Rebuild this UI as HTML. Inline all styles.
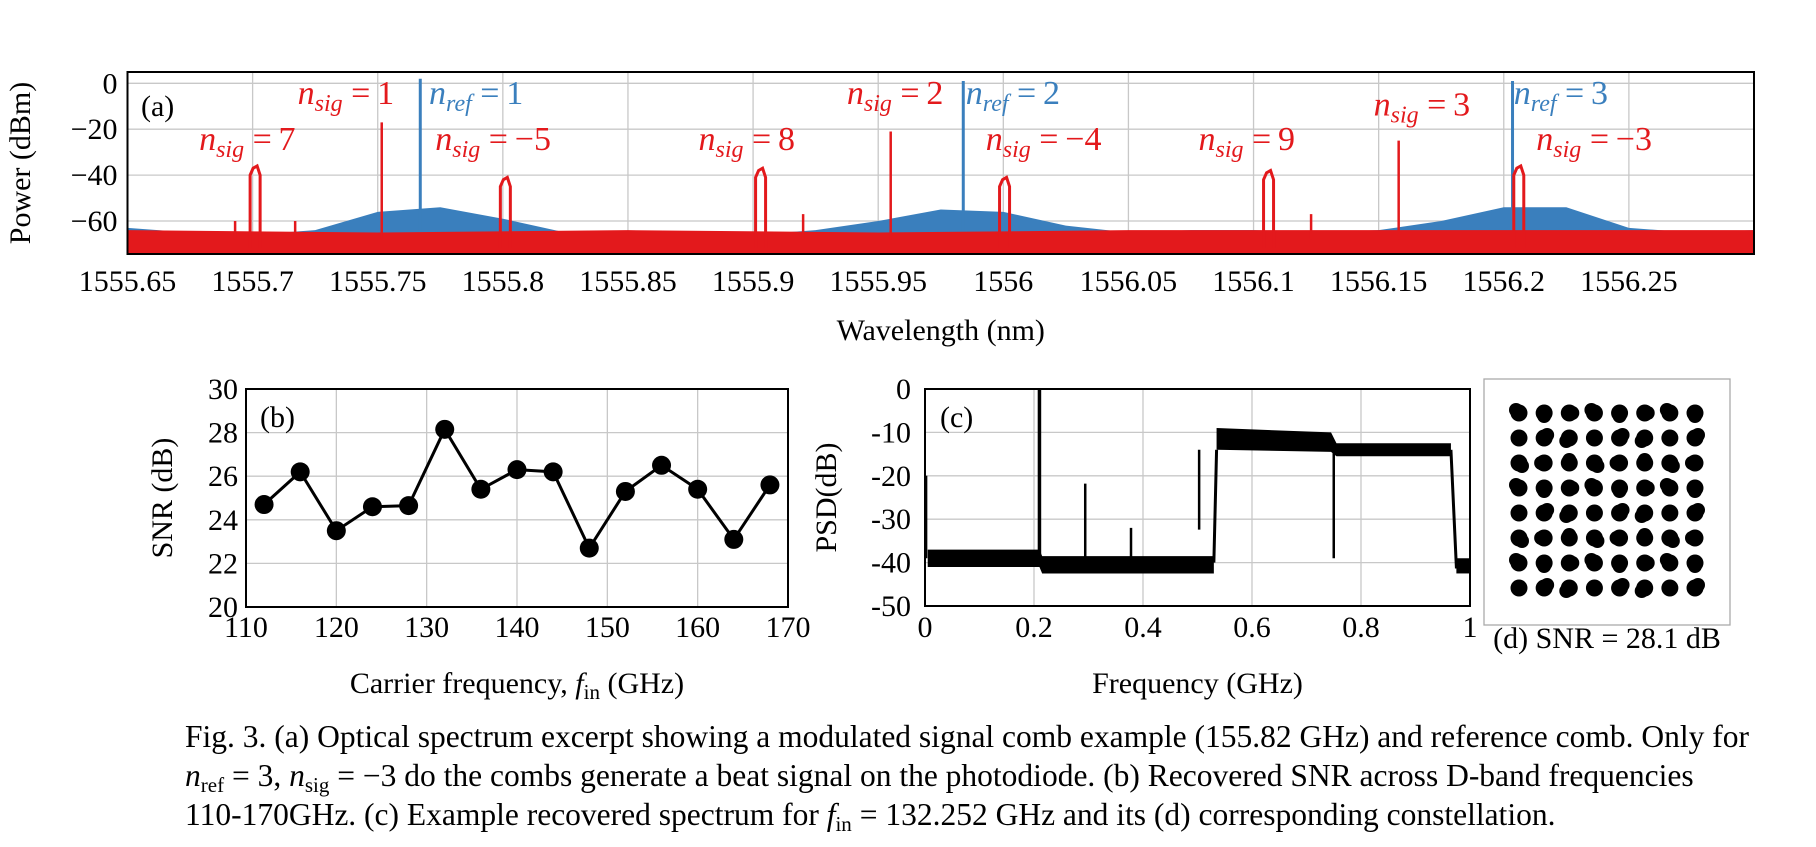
<!DOCTYPE html>
<html><head><meta charset="utf-8"><style>
html,body{margin:0;padding:0;background:#fff;}
svg{display:block;font-family:"Liberation Serif",serif;}
.t{font-size:30px;fill:#000;}
.an{font-size:34px;font-style:italic;}
.cap{font-size:31.5px;fill:#000;}
</style></head><body>
<svg id="fig" width="1816" height="847" viewBox="0 0 1816 847">
<g id="pa"></g>
<g id="pb"></g>
<g id="pc"></g>
<g id="pd"></g>
<g>
<text class="cap" x="185" y="747">Fig. 3. (a) Optical spectrum excerpt showing a modulated signal comb example (155.82 GHz) and reference comb. Only for</text>
<text class="cap" x="185" y="786"><tspan font-style="italic">n</tspan><tspan font-size="21" dy="6">ref</tspan><tspan dy="-6"> = 3, </tspan><tspan font-style="italic">n</tspan><tspan font-size="21" dy="6">sig</tspan><tspan dy="-6"> = −3 do the combs generate a beat signal on the photodiode. (b) Recovered SNR across D-band frequencies</tspan></text>
<text class="cap" x="185" y="825">110-170GHz. (c) Example recovered spectrum for <tspan font-style="italic">f</tspan><tspan font-size="21" dy="6">in</tspan><tspan dy="-6"> = 132.252 GHz and its (d) corresponding constellation.</tspan></text>
</g>
</svg>
<script>
// ---------- Panel (a) data ----------
const aXTicks=[1555.65,1555.7,1555.75,1555.8,1555.85,1555.9,1555.95,1556,1556.05,1556.1,1556.15,1556.2,1556.25];
const aXTickLabels=["1555.65","1555.7","1555.75","1555.8","1555.85","1555.9","1555.95","1556","1556.05","1556.1","1556.15","1556.2","1556.25"];
const aYTicks=[0,-20,-40,-60];
const aYTickLabels=["0","−20","−40","−60"];
const blueEnvX=[1555.65,1555.675,1555.7,1555.725,1555.75,1555.775,1555.8,1555.825,1555.85,1555.875,1555.9,1555.925,1555.95,1555.975,1556.0,1556.025,1556.05,1556.075,1556.1,1556.125,1556.15,1556.175,1556.2,1556.225,1556.25,1556.275,1556.3];
const blueEnvTop=[-63,-65,-66,-64,-56,-54,-59,-65,-65,-65,-66,-64,-60,-55,-56,-62,-65,-64,-64,-65,-64,-60,-54,-54,-63,-65,-64];
const blueEnvBot=[-74,-74,-74,-74,-67,-66,-68,-74,-74,-74,-74,-74,-70,-66,-67,-73,-74,-74,-74,-74,-74,-70,-66,-66,-73,-74,-74];
const redEnvX=[1555.65,1555.75,1555.85,1555.95,1556.05,1556.15,1556.25,1556.3];
const redEnvTop=[-64,-65,-64,-65,-64,-64,-64,-64];
const redEnvBot=[-74,-74,-74,-74,-74,-74,-74,-74];
const blueRefPos=[1555.767,1555.984,1556.2035];
const blueRefPeak=[2,1,1];
const redCombPos=[1555.701,1555.801,1555.903,1556.0005,1556.106,1556.206];
const redCombPeak=[-37,-42,-38,-42,-39,-37];
const redSpikePos=[1555.693,1555.717,1555.7516,1555.92,1555.955,1556.123,1556.158];
const redSpikePeak=[-60,-60,-17,-57,-21,-57,-25];
const annText=[["n","sig","= 7"],["n","sig","= 1"],["n","ref","= 1"],["n","sig","= −5"],["n","sig","= 8"],["n","sig","= 2"],["n","ref","= 2"],["n","sig","= −4"],["n","sig","= 9"],["n","sig","= 3"],["n","ref","= 3"],["n","sig","= −3"]];
const annX=[1555.6786,1555.7180,1555.7705,1555.7730,1555.8782,1555.9375,1555.9850,1555.9930,1556.0780,1556.1480,1556.2040,1556.2130];
const annY=[-29,-9,-9,-29,-29,-9,-9,-29,-29,-14,-9,-29];
const annBlue=[0,0,1,0,0,0,1,0,0,0,1,0];

// ---------- Panel (b) data ----------
const bX=[112,116,120,124,128,132,136,140,144,148,152,156,160,164,168];
const bSNR=[24.7,26.2,23.5,24.6,24.65,28.15,25.4,26.3,26.2,22.7,25.3,26.5,25.4,23.1,25.6];
const bXTicks=[110,120,130,140,150,160,170];
const bYTicks=[20,22,24,26,28,30];

// ---------- Panel (c) data ----------
const cFloorX=[0.005,0.21,0.215,0.53];
const cFloorTop=[-37,-37,-38.5,-38.5];
const cFloorBot=[-41,-41,-42.5,-42.5];
const cBandX=[0.535,0.745,0.755,0.965];
const cBandTop=[-9,-10,-12.5,-12.5];
const cBandBot=[-14,-14.5,-15.5,-15.5];
const cSpikeX=[0.21,0.294,0.378,0.503,0.75,0.002];
const cSpikeTop=[0,-21.8,-32,-32.4,-39,-20];
const cXTicks=[0,0.2,0.4,0.6,0.8,1];
const cXTickLabels=["0","0.2","0.4","0.6","0.8","1"];
const cYTicks=[0,-10,-20,-30,-40,-50];

// ---------- Panel (d) data ----------
const dLevels=[0,1,2,3,4,5,6,7];

const NS="http://www.w3.org/2000/svg";
function mk(tag,attrs,parent){const e=document.createElementNS(NS,tag);for(const k in attrs)e.setAttribute(k,attrs[k]);parent.appendChild(e);return e;}
function lin(d0,d1,r0,r1){return v=>r0+(v-d0)/(d1-d0)*(r1-r0);}

// ===== Panel a =====
(function(){
const g=document.getElementById('pa');
const L=127.5,R=1754,T=72,B=254;
const x=lin(1555.65,1556.30,L,R), y=lin(0,-60,83.3,221);
aXTicks.forEach((v,i)=>{const l=mk('line',{x1:x(v),x2:x(v),y1:T,y2:B,stroke:'#c8c8c8','stroke-width':1.3},g);

const t=mk('text',{x:x(v),y:291,'text-anchor':'middle',class:'t'},g);t.textContent=aXTickLabels[i];
});
aYTicks.forEach((v,i)=>{const l=mk('line',{x1:L,x2:R,y1:y(v),y2:y(v),stroke:'#c8c8c8','stroke-width':1.3},g);

const t=mk('text',{x:L-10,y:y(v)+10,'text-anchor':'end',class:'t'},g);t.textContent=aYTickLabels[i];
});
function band(X,Tp,Bt,col,name){let p=X.map((v,i)=>x(v)+','+y(Tp[i])).join(' ');p+=' '+X.slice().reverse().map((v,j)=>x(v)+','+y(Bt[X.length-1-j])).join(' ');
const e=mk('polygon',{points:p,fill:col},g);}
band(blueEnvX,blueEnvTop,blueEnvBot,'#3a7fbd','blue-noise-floor');
blueRefPos.forEach((v,i)=>{const e=mk('line',{x1:x(v),x2:x(v),y1:y(-70),y2:y(blueRefPeak[i]),stroke:'#3a7fbd','stroke-width':3},g);
});
band(redEnvX,redEnvTop,redEnvBot,'#e3191c','red-noise-floor');
redCombPos.forEach((v,i)=>{const p=redCombPeak[i];
const e=mk('path',{d:`M${x(v)-5},${y(-72)} L${x(v)-5},${y(p-3)} L${x(v)-2},${y(p)} L${x(v)+2},${y(p+1)} L${x(v)+5},${y(p-3)} L${x(v)+5},${y(-72)}`,fill:'none',stroke:'#e3191c','stroke-width':3},g);
});
redSpikePos.forEach((v,i)=>{const e=mk('line',{x1:x(v),x2:x(v),y1:y(-68),y2:y(redSpikePeak[i]),stroke:'#e3191c','stroke-width':2.5},g);
});
const fr=mk('rect',{x:L,y:T,width:R-L,height:B-T,fill:'none',stroke:'#000','stroke-width':2},g);

annText.forEach((a,i)=>{const t=mk('text',{x:x(annX[i]),y:y(annY[i]),class:'an',fill:annBlue[i]?'#3a7fbd':'#e3191c'},g);
t.innerHTML=`${a[0]}<tspan font-size="24" dy="7">${a[1]}</tspan><tspan dy="-7" font-style="normal"> ${a[2].replace('= ','=&#8201;')}</tspan>`;
});
const lab=mk('text',{x:141,y:116,class:'t'},g);lab.textContent='(a)';lab.setAttribute('font-size','36');

const xl=mk('text',{x:(L+R)/2,y:340,'text-anchor':'middle',class:'t'},g);xl.textContent='Wavelength (nm)';

const yl=mk('text',{x:0,y:0,'text-anchor':'middle',class:'t',transform:`translate(30,${(T+B)/2}) rotate(-90)`},g);yl.textContent='Power (dBm)';

})();

// ===== Panel b =====
(function(){
const g=document.getElementById('pb');
const L=246,R=788,T=389,B=607;
const x=lin(110,170,L,R), y=lin(20,30,B,T);
bXTicks.forEach(v=>{const l=mk('line',{x1:x(v),x2:x(v),y1:T,y2:B,stroke:'#c8c8c8','stroke-width':1.3},g);

const t=mk('text',{x:x(v),y:637,'text-anchor':'middle',class:'t'},g);t.textContent=v;
});
bYTicks.forEach(v=>{const l=mk('line',{x1:L,x2:R,y1:y(v),y2:y(v),stroke:'#c8c8c8','stroke-width':1.3},g);

const t=mk('text',{x:L-8,y:y(v)+10,'text-anchor':'end',class:'t'},g);t.textContent=v;
});
const fr=mk('rect',{x:L,y:T,width:R-L,height:B-T,fill:'none',stroke:'#000','stroke-width':2},g);

const pl=mk('polyline',{points:bX.map((v,i)=>x(v)+','+y(bSNR[i])).join(' '),fill:'none',stroke:'#000','stroke-width':3},g);

bX.forEach((v,i)=>{const c=mk('circle',{cx:x(v),cy:y(bSNR[i]),r:9.5,fill:'#000'},g);
});
const lab=mk('text',{x:260,y:427,class:'t'},g);lab.textContent='(b)';lab.setAttribute('font-size','36');

const xl=mk('text',{x:(L+R)/2,y:693,'text-anchor':'middle',class:'t'},g);
xl.innerHTML='Carrier frequency, <tspan font-style="italic">f</tspan><tspan font-size="21" dy="6">in</tspan><tspan dy="-6"> (GHz)</tspan>';

const yl=mk('text',{x:0,y:0,'text-anchor':'middle',class:'t',transform:`translate(172,${(T+B)/2}) rotate(-90)`},g);yl.textContent='SNR (dB)';

})();

// ===== Panel c =====
(function(){
const g=document.getElementById('pc');
const L=925,R=1470,T=389,B=606;
const x=lin(0,1,L,R), y=lin(0,-50,T,B);
cXTicks.forEach((v,i)=>{const l=mk('line',{x1:x(v),x2:x(v),y1:T,y2:B,stroke:'#c8c8c8','stroke-width':1.3},g);

const t=mk('text',{x:x(v),y:637,'text-anchor':'middle',class:'t'},g);t.textContent=cXTickLabels[i];
});
cYTicks.forEach(v=>{const l=mk('line',{x1:L,x2:R,y1:y(v),y2:y(v),stroke:'#c8c8c8','stroke-width':1.3},g);

const t=mk('text',{x:L-14,y:y(v)+10,'text-anchor':'end',class:'t'},g);t.textContent=v;
});
function band(X,Tp,Bt,name){let p=X.map((v,i)=>x(v)+','+y(Tp[i])).join(' ');p+=' '+X.slice().reverse().map((v,j)=>x(v)+','+y(Bt[X.length-1-j])).join(' ');
const e=mk('polygon',{points:p,fill:'#000'},g);}
band(cFloorX,cFloorTop,cFloorBot,'psd-noise-floor');
band(cBandX,cBandTop,cBandBot,'psd-signal-band');
const ed=mk('path',{d:`M${x(0.53)},${y(-40)} L${x(0.535)},${y(-14)} M${x(0.965)},${y(-14)} L${x(0.975)},${y(-41)} L${x(1)},${y(-41)}`,stroke:'#000','stroke-width':3,fill:'none'},g);

const tail=mk('rect',{x:x(0.975),y:y(-39),width:x(1)-x(0.975),height:y(-42.5)-y(-39),fill:'#000'},g);

cSpikeX.forEach((v,i)=>{const base=v>0.5&&v<0.8?-14:-39;const e=mk('line',{x1:x(v),x2:x(v),y1:y(base),y2:y(cSpikeTop[i]),stroke:'#000','stroke-width':i==0?3.5:2.5},g);
});
const fr=mk('rect',{x:L,y:T,width:R-L,height:B-T,fill:'none',stroke:'#000','stroke-width':2},g);

const lab=mk('text',{x:940,y:427,class:'t'},g);lab.textContent='(c)';lab.setAttribute('font-size','36');

const xl=mk('text',{x:(L+R)/2,y:693,'text-anchor':'middle',class:'t'},g);xl.textContent='Frequency (GHz)';

const yl=mk('text',{x:0,y:0,'text-anchor':'middle',class:'t',transform:`translate(836,${(T+B)/2}) rotate(-90)`},g);yl.textContent='PSD(dB)';

})();

// ===== Panel d =====
(function(){
const g=document.getElementById('pd');
const L=1484,R=1730,T=379,B=625;
const fr=mk('rect',{x:L,y:T,width:R-L,height:B-T,fill:'#fff',stroke:'#aaa','stroke-width':1.3},g);

const x=lin(0,7,1519,1695), y=lin(0,7,413,588);
dLevels.forEach(i=>dLevels.forEach(j=>{
const c=mk('circle',{cx:x(i),cy:y(j),r:8.5,fill:'#000'},g);

const c2=mk('circle',{cx:x(i)+((i+j)%3-1)*3,cy:y(j)+((i*2+j)%3-1)*3,r:7,fill:'#000'},g);
}));
const t=mk('text',{x:(L+R)/2,y:648,'text-anchor':'middle',class:'t'},g);t.textContent='(d) SNR = 28.1 dB';t.setAttribute('font-size','27');

})();
</script>
</body></html>
